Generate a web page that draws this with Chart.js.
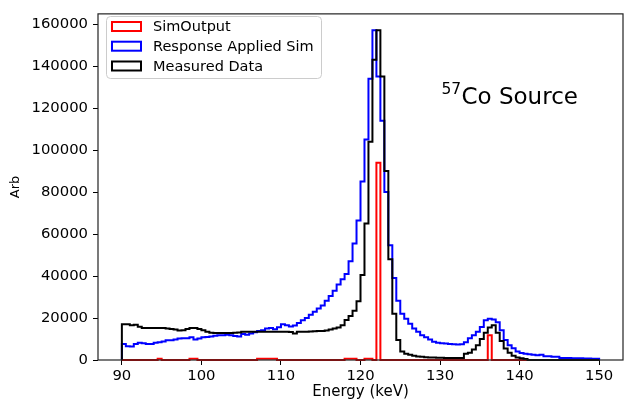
<!DOCTYPE html>
<html>
<head>
<meta charset="utf-8">
<script src="https://cdn.jsdelivr.net/npm/chart.js@4.4.1/dist/chart.umd.min.js"></script>
<style>
  html, body { margin: 0; padding: 0; background: #fff; }
  #wrap { width: 626px; height: 403px; }
</style>
</head>
<body>
<div id="wrap"><canvas id="spectrum-canvas" width="626" height="403"></canvas></div>
<script>
// ========== Colors
let simColor = '#ff0000';
let respColor = '#0000ff';
let measColor = '#000000';

// ========== Bins (keV): 0.5 keV wide, first bin starts at 90
let binStart = 90;
let binWidth = 0.5;

// ========== Counts per bin (each row = 5 keV)
// SimOutput only runs to 141 keV
let simOutput = [
    0, 0, 0, 0, 0, 0, 0, 0, 0, 600,
    0, 0, 0, 0, 0, 0, 0, 600, 600, 0,
    0, 0, 0, 0, 0, 0, 0, 0, 0, 0,
    0, 0, 0, 0, 600, 600, 600, 600, 600, 0,
    0, 0, 0, 0, 0, 0, 0, 0, 0, 0,
    0, 0, 0, 0, 0, 0, 600, 600, 600, 0,
    0, 600, 600, 0, 94000, 0, 0, 0, 0, 0,
    0, 0, 0, 0, 0, 0, 0, 0, 0, 0,
    0, 0, 0, 0, 0, 0, 0, 0, 0, 0,
    0, 0, 11800, 0, 0, 0, 0, 0, 0, 0,
    0, 0
];

let responseSim = [
    7600, 6600, 6400, 7600, 8200, 8000, 7600, 7600, 8200, 8400,
    8800, 9400, 9400, 9800, 10200, 10400, 10400, 10800, 9800, 10200,
    10800, 11000, 11200, 11600, 11800, 11800, 12000, 11800, 11400, 11200,
    12400, 12000, 12600, 13200, 13800, 14200, 15000, 15200, 14600, 15600,
    17000, 16600, 16000, 16400, 17600, 18900, 20000, 21500, 23000, 24500,
    26000, 28200, 30500, 33000, 36000, 38500, 41000, 47000, 55500, 66400,
    85000, 105000, 134000, 157000, 135000, 114000, 80000, 54700, 39000, 28200,
    22000, 19600, 17300, 15000, 13400, 11800, 10800, 9800, 8700, 8200,
    8000, 7800, 7600, 7500, 7400, 7500, 8500, 10300, 11800, 13400,
    15700, 18900, 19600, 19300, 18000, 14200, 9500, 7000, 5600, 4000,
    3300, 3000, 2700, 2500, 2300, 2500, 1800, 1800, 1500, 1500,
    1000, 900, 900, 800, 800, 800, 700, 700, 600, 600
];

let measuredData = [
    17000, 17000, 16500, 16800, 15800, 15300, 15200, 15200, 15200, 15200,
    15200, 15000, 14800, 14500, 14000, 14200, 14800, 15300, 15300, 14800,
    14200, 13500, 13000, 12900, 12900, 12900, 12900, 12900, 13000, 13100,
    13400, 13500, 13500, 13500, 13500, 13500, 13500, 13500, 13500, 13500,
    13500, 13500, 13300, 12600, 13400, 13500, 13500, 13600, 13700, 13800,
    13800, 14000, 14500, 15000, 15500, 16500, 19000, 21000, 23500, 28000,
    40500, 65000, 104000, 143000, 157000, 135000, 90000, 48000, 22000, 9500,
    4000, 3000, 2500, 2000, 1700, 1500, 1300, 1200, 1200, 1100,
    1100, 1000, 1000, 1000, 1000, 1000, 3000, 3500, 5000, 7000,
    10000, 13000, 15500, 16500, 13000, 9000, 5500, 3500, 2000, 1200,
    800, 500, 0, 0, 0, 0, 0, 0, 0, 0,
    0, 0, 0, 0, 0, 0, 0, 0, 0, 0
];

// ========== Ticks / labels
let xTicks = [90, 100, 110, 120, 130, 140, 150];
let yTicks = [0, 20000, 40000, 60000, 80000, 100000, 120000, 140000, 160000];
let seriesLabels = ['SimOutput', 'Response Applied Sim', 'Measured Data'];
let seriesColors = [simColor, respColor, measColor];

// histogram outline: one point per left bin edge, closed down to 0 at both ends
function toSteps(values) {
    let pts = [{ x: binStart, y: 0 }];
    values.forEach((v, i) => pts.push({ x: binStart + i * binWidth, y: v }));
    pts.push({ x: binStart + values.length * binWidth, y: 0 });
    return pts;
}

let fontFamily = "'DejaVu Sans', sans-serif";
Chart.defaults.font.family = fontFamily;
Chart.defaults.color = '#000';

// frame, legend box and source label drawn straight on the canvas
let decorPlugin = {
    id: 'decor',
    afterDatasetsDraw(chart) {
        const { ctx, chartArea: a } = chart;
        ctx.save();
        ctx.strokeStyle = '#222';
        ctx.lineWidth = 1.2;
        ctx.strokeRect(a.left, a.top, a.right - a.left, a.bottom - a.top);
        ctx.restore();
    },
    afterDraw(chart) {
        const ctx = chart.ctx;
        ctx.save();

        // legend frame
        let bx = 106.5, by = 16.5, bw = 215, bh = 62, r = 4;
        ctx.beginPath();
        ctx.moveTo(bx + r, by);
        ctx.arcTo(bx + bw, by, bx + bw, by + bh, r);
        ctx.arcTo(bx + bw, by + bh, bx, by + bh, r);
        ctx.arcTo(bx, by + bh, bx, by, r);
        ctx.arcTo(bx, by, bx + bw, by, r);
        ctx.closePath();
        ctx.fillStyle = 'rgba(255,255,255,0.8)';
        ctx.fill();
        ctx.strokeStyle = '#cccccc';
        ctx.lineWidth = 1;
        ctx.stroke();

        let rows = [26.5, 46.2, 66];
        ctx.font = '14.5px ' + fontFamily;
        ctx.textBaseline = 'middle';
        ctx.textAlign = 'left';
        seriesLabels.forEach((lbl, i) => {
            ctx.strokeStyle = seriesColors[i];
            ctx.lineWidth = 2;
            ctx.strokeRect(112, rows[i] - 4.5, 29, 9);
            ctx.fillStyle = '#000';
            ctx.fillText(lbl, 153, rows[i] + 1);
        });

        // source label
        ctx.textBaseline = 'alphabetic';
        ctx.fillStyle = '#000';
        ctx.font = '15.5px ' + fontFamily;
        ctx.fillText('57', 441.5, 94);
        ctx.font = '23px ' + fontFamily;
        ctx.fillText('Co Source', 461.5, 104);
        ctx.restore();
    }
};

let datasets = [simOutput, responseSim, measuredData].map((vals, i) => ({
    label: seriesLabels[i],
    data: toSteps(vals),
    borderColor: seriesColors[i],
    borderWidth: 2,
    pointRadius: 0,
    fill: false,
    stepped: 'before',
    borderJoinStyle: 'miter',
    order: 3 - i,
    clip: 2
}));

var spectrumCanvas = document.getElementById('spectrum-canvas');
var spectrumChart = new Chart(spectrumCanvas, {
    type: 'line',
    data: { datasets: datasets },
    options: {
        responsive: false,
        animation: false,
        layout: { padding: { top: 8, right: 3, left: 0, bottom: 0 } },
        plugins: {
            legend: { display: false },
            tooltip: { enabled: false }
        },
        scales: {
            x: {
                type: 'linear',
                min: 87,
                max: 153,
                afterBuildTicks: (s) => { s.ticks = xTicks.map(v => ({ value: v })); },
                afterFit: (s) => { s.height = 43; },
                border: { display: false },
                grid: { drawOnChartArea: false, tickLength: 5, color: '#000', tickWidth: 1 },
                ticks: { font: { size: 14.8 }, color: '#000', padding: 2, maxRotation: 0 },
                title: { display: true, text: 'Energy (keV)', font: { size: 15 }, color: '#000', padding: { top: 0, bottom: 1.5 } }
            },
            y: {
                min: 0,
                max: 164850,
                afterBuildTicks: (s) => { s.ticks = yTicks.map(v => ({ value: v })); },
                afterFit: (s) => { s.width = 98; },
                border: { display: false },
                grid: { drawOnChartArea: false, tickLength: 5, color: '#000', tickWidth: 1 },
                ticks: { font: { size: 14.8 }, color: '#000', padding: 5, callback: (v) => String(v) },
                title: { display: true, text: 'Arb', font: { size: 13 }, color: '#000', padding: { top: 8, bottom: 0 } }
            }
        }
    },
    plugins: [decorPlugin]
});
</script>
</body>
</html>
